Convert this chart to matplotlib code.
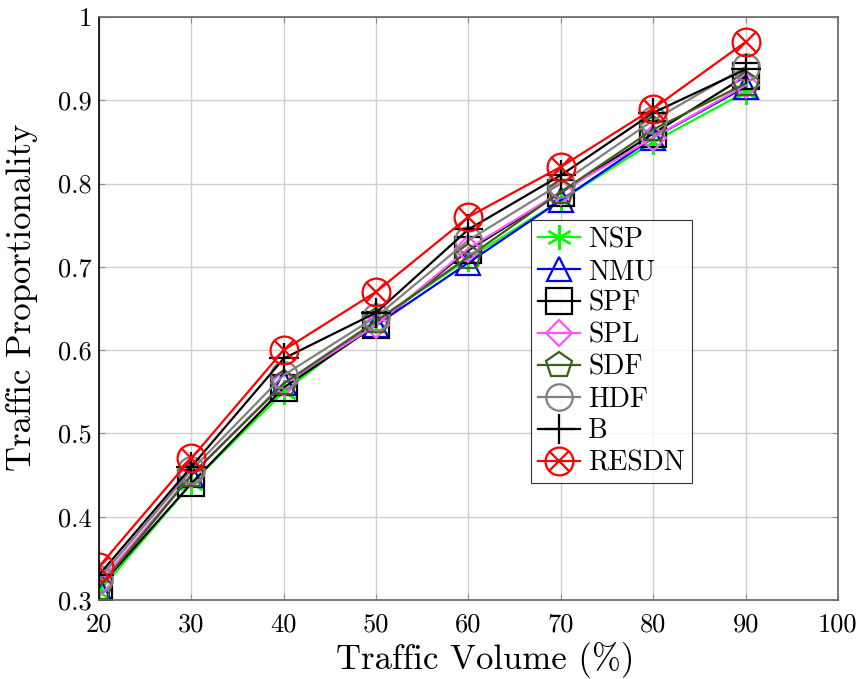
import matplotlib
matplotlib.use("Agg")
import matplotlib.pyplot as plt

plt.rcParams['font.family'] = 'serif'
plt.rcParams['font.serif'] = ['cmr10', 'DejaVu Serif']
plt.rcParams['mathtext.fontset'] = 'cm'
plt.rcParams['axes.formatter.use_mathtext'] = True

x = [20, 30, 40, 50, 60, 70, 80, 90]
nsp = [0.310, 0.440, 0.550, 0.635, 0.710, 0.780, 0.850, 0.910]
nmu = [0.315, 0.450, 0.560, 0.630, 0.705, 0.780, 0.855, 0.916]
spf = [0.315, 0.440, 0.555, 0.630, 0.720, 0.789, 0.860, 0.929]
spl = [0.320, 0.450, 0.560, 0.630, 0.722, 0.790, 0.855, 0.918]
sdf = [0.315, 0.450, 0.560, 0.635, 0.712, 0.790, 0.865, 0.920]
hdf = [0.325, 0.456, 0.570, 0.640, 0.732, 0.800, 0.876, 0.940]
b = [0.330, 0.460, 0.590, 0.645, 0.745, 0.810, 0.885, 0.937]
resdn = [0.340, 0.470, 0.600, 0.670, 0.760, 0.820, 0.890, 0.970]

xticks = [20, 30, 40, 50, 60, 70, 80, 90, 100]
yticks = [0.3, 0.4, 0.5, 0.6, 0.7, 0.8, 0.9, 1.0]
ytick_labels = ['0.3', '0.4', '0.5', '0.6', '0.7', '0.8', '0.9', '1']

fig = plt.figure(figsize=(8.62, 6.79), dpi=100)
ax = fig.add_axes([0.1148, 0.1163, 0.8573, 0.8587])

lw = 1.6
mew = 1.6
handles = []
h, = ax.plot(x, nsp, color='#00ff00', lw=lw, marker=(6, 2, 0), ms=18, mew=mew, label='NSP')
handles.append(h)
h, = ax.plot(x, nmu, color='#0000ff', lw=lw, marker='^', ms=17, mfc='none', mew=mew, label='NMU')
handles.append(h)
h, = ax.plot(x, spf, color='black', lw=lw, marker='s', ms=19, mfc='none', mew=mew, label='SPF')
handles.append(h)
h, = ax.plot(x, spl, color='#ff55ff', lw=lw, marker='D', ms=13, mfc='none', mew=mew, label='SPL')
handles.append(h)
h, = ax.plot(x, sdf, color='#3f5f1a', lw=lw, marker='p', ms=19, mfc='none', mew=mew, label='SDF')
handles.append(h)
h, = ax.plot(x, hdf, color='#808080', lw=lw, marker='o', ms=19, mfc='none', mew=mew, label='HDF')
handles.append(h)
h, = ax.plot(x, b, color='black', lw=lw, marker='+', ms=22, mew=mew, label='B')
handles.append(h)
h1, = ax.plot(x, resdn, color='red', lw=lw, marker='o', ms=20, mfc='none', mew=mew)
h2, = ax.plot(x, resdn, color='red', lw=0, marker='x', ms=14, mew=mew)
handles.append((h1, h2))

labels = ['NSP', 'NMU', 'SPF', 'SPL', 'SDF', 'HDF', 'B', 'RESDN']

ax.set_xlim(20, 100)
ax.set_ylim(0.3, 1.0)
ax.set_xticks(xticks)
ax.set_xticklabels([str(t) for t in xticks])
ax.set_yticks(yticks)
ax.set_yticklabels(ytick_labels)
ax.tick_params(axis='both', labelsize=19, direction='in', length=4, color='#909090',
               top=True, right=True, pad=5)
ax.tick_params(axis='x', pad=9)
ax.grid(True, color='#d0d0d0', lw=1.0)
ax.set_axisbelow(True)
for s in ax.spines.values():
    s.set_color('#666666')
    s.set_linewidth(1.2)
ax.spines['left'].set_color('black')

ax.set_xlabel('Traffic Volume (%)', fontsize=25)
ax.xaxis.set_label_coords(0.522, -0.102, transform=ax.transAxes)
ax.xaxis.label.set_va('center')
ax.set_ylabel('Traffic Proportionality', fontsize=25)
ax.yaxis.set_label_coords(-0.104, 0.52, transform=ax.transAxes)
ax.yaxis.label.set_va('center')

leg = ax.legend(handles, labels, loc='upper left', bbox_to_anchor=(0.585, 0.652),
                fontsize=20, frameon=True, fancybox=False, edgecolor='black',
                handlelength=1.5, handletextpad=0.3, labelspacing=0.2,
                borderpad=0.25, borderaxespad=0)
leg.get_frame().set_linewidth(0.8)

fig.savefig('out.png', dpi=100)
